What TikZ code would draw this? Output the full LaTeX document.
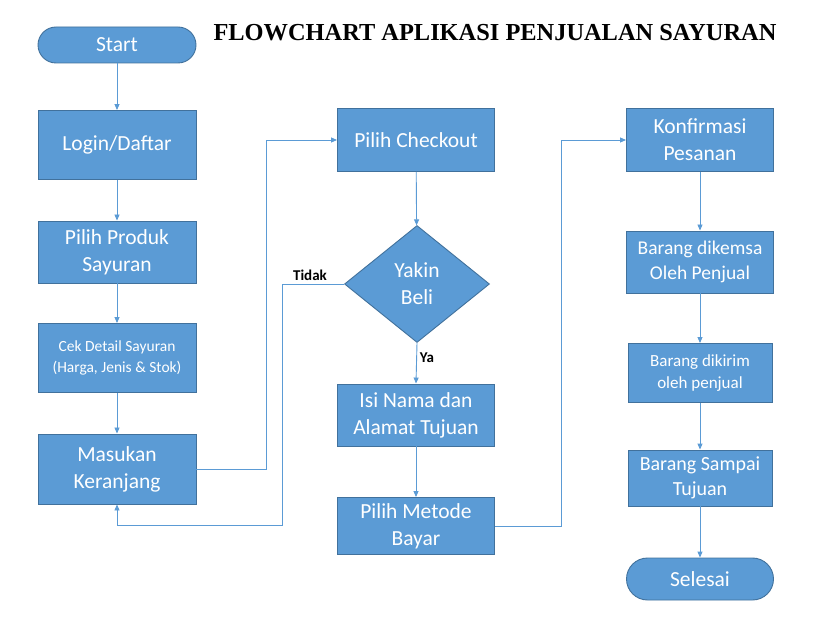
\documentclass[tikz,border=0pt]{standalone}
\usepackage{fontspec}
\setmainfont{Carlito}
\newfontfamily\titlefont{Liberation Serif}
\usetikzlibrary{shapes.geometric,arrows.meta}
\definecolor{boxfill}{HTML}{5B9BD5}
\definecolor{boxline}{HTML}{41719C}
\definecolor{conn}{HTML}{5B9BD5}
\tikzset{
  base/.style={fill=boxfill, draw=boxline, line width=0.9pt, text=white, align=center, inner sep=0pt, font=\fontsize{21.5}{27}\selectfont},
  procbox/.style={base, rectangle, minimum width=#1},
  procbox/.default=158pt,
  term/.style={base, rectangle, rounded corners=18pt},
  decis/.style={base, diamond, aspect=1.24, minimum width=145pt, minimum height=117pt},
  conn/.style={draw=conn, line width=0.9pt, -{Triangle[length=6pt,width=5pt]}},
  lbl/.style={font=\bfseries\fontsize{15}{17}\selectfont, text=black}
}
\begin{document}
\begin{tikzpicture}[x=1pt,y=-1pt]
\useasboundingbox (0,0) rectangle (814,617);
\node[font=\titlefont\bfseries\fontsize{24.4}{28}\selectfont, anchor=center] (title) at (495,33) {FLOWCHART APLIKASI PENJUALAN SAYURAN};

\node[term, minimum width=158pt, minimum height=36pt] (start) at (117,45) {Start};
\node[procbox, minimum height=69pt] (login) at (117,145) {Login/Daftar};
\node[procbox, minimum height=62pt] (produk) at (117,252) {Pilih Produk\\Sayuran};
\node[procbox, minimum height=69pt, font=\fontsize{15.5}{21}\selectfont] (cek) at (117,358) {Cek Detail Sayuran\\(Harga, Jenis \& Stok)};
\node[procbox, minimum height=70pt] (keranjang) at (117,469) {Masukan\\Keranjang};

\node[procbox=157pt, minimum height=63pt] (checkout) at (416,140) {Pilih Checkout};
\node[decis] (yakin) at (417,284) {Yakin\\Beli};
\node[procbox=157pt, minimum height=62pt] (isi) at (416,415) {Isi Nama dan\\Alamat Tujuan};
\node[procbox=157pt, minimum height=57pt] (metode) at (416,526) {Pilih Metode\\Bayar};

\node[procbox=147pt, minimum height=63pt] (konf) at (700,140) {Konfirmasi\\Pesanan};
\node[procbox=147pt, minimum height=62pt, font=\fontsize{19.5}{25}\selectfont] (kemas) at (700,262) {Barang dikemsa\\Oleh Penjual};
\node[procbox=144pt, minimum height=59pt, font=\fontsize{17}{22}\selectfont] (kirim) at (700,373) {Barang dikirim\\oleh penjual};
\node[procbox=144pt, minimum height=56pt, font=\fontsize{20}{25}\selectfont] (sampai) at (700,478) {Barang Sampai\\Tujuan};
\node[term, minimum width=147pt, minimum height=42pt, rounded corners=21pt] (selesai) at (700,579) {Selesai};

\draw[conn] (start) -- (login);
\draw[conn] (login) -- (produk);
\draw[conn] (produk) -- (cek);
\draw[conn] (cek) -- (keranjang);
\draw[conn] (keranjang.east) -- (266,469) -- (266,140) -- (checkout.west);
\draw[conn] (checkout) -- (yakin);
\draw[conn] (yakin.west) -- (282,284) -- (282,525) -- (117,525) -- (keranjang.south);
\draw[conn] (yakin.south) -- (isi.north);
\draw[conn] (isi) -- (metode);
\draw[conn] (metode.east) -- (561,526) -- (561,140) -- (konf.west);
\draw[conn] (konf) -- (kemas);
\draw[conn] (kemas) -- (kirim);
\draw[conn] (kirim) -- (sampai);
\draw[conn] (sampai) -- (selesai);

\node[lbl] (tidak) at (310,275) {Tidak};
\node[lbl] (ya) at (427,358) {Ya};
\end{tikzpicture}
\end{document}
